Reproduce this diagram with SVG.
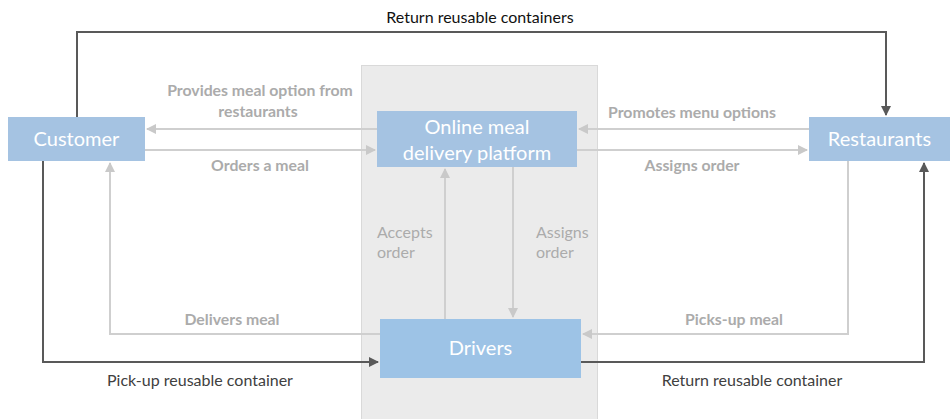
<svg xmlns="http://www.w3.org/2000/svg" width="952" height="419" viewBox="0 0 952 419">
  <defs>
    <marker id="arrLight" viewBox="0 0 10 10" refX="9" refY="5" markerWidth="5" markerHeight="5" orient="auto" markerUnits="strokeWidth">
      <path d="M0,0 L10,5 L0,10 z" fill="#c9c9c9"/>
    </marker>
    <marker id="arrDark" viewBox="0 0 10 10" refX="9" refY="5" markerWidth="5" markerHeight="5" orient="auto" markerUnits="strokeWidth">
      <path d="M0,0 L10,5 L0,10 z" fill="#595959"/>
    </marker>
    <style>
      .node { fill: #a5c3e2; }
      .drv { fill: #9dc3e6; }
      .ntext { font-family: Lato, "Liberation Sans", sans-serif; font-size: 20px; fill: #ffffff; text-anchor: middle; }
      .light { fill: none; stroke: #cfcfcf; stroke-width: 2; }
      .dark { fill: none; stroke: #595959; stroke-width: 2; }
      .lbl { font-family: Lato, "Liberation Sans", sans-serif; font-size: 15.8px; font-weight: bold; fill: #ababab; text-anchor: middle; }
      .lblv { font-family: Lato, "Liberation Sans", sans-serif; font-size: 16px; fill: #ababab; }
      .dlbl { font-family: Lato, "Liberation Sans", sans-serif; font-size: 16px; fill: #404040; text-anchor: middle; }
    </style>
  </defs>

  <rect width="952" height="419" fill="#ffffff"/>

  <!-- platform band -->
  <rect id="platform-band" x="361.5" y="65.5" width="236" height="360" fill="#ebebeb" stroke="#d9d9d9" stroke-width="1"/>

  <g id="connectors">
    <!-- top return loop -->
    <path class="dark" d="M77,117 V32 H886 V115" marker-end="url(#arrDark)"/>
    <!-- platform to customer -->
    <path class="light" d="M377,129 H147" marker-end="url(#arrLight)"/>
    <!-- customer to platform -->
    <path class="light" d="M145,150 H375" marker-end="url(#arrLight)"/>
    <!-- restaurants to platform -->
    <path class="light" d="M809,129 H579" marker-end="url(#arrLight)"/>
    <!-- platform to restaurants -->
    <path class="light" d="M577,150 H807" marker-end="url(#arrLight)"/>
    <!-- drivers up to platform -->
    <path class="light" d="M445,319 V169" marker-end="url(#arrLight)"/>
    <!-- platform down to drivers -->
    <path class="light" d="M513,167 V317" marker-end="url(#arrLight)"/>
    <!-- drivers to customer -->
    <path class="light" d="M380,334 H110 V163" marker-end="url(#arrLight)"/>
    <!-- restaurants to drivers -->
    <path class="light" d="M848,161 V334 H583" marker-end="url(#arrLight)"/>
    <!-- customer to drivers -->
    <path class="dark" d="M43,161 V362 H378" marker-end="url(#arrDark)"/>
    <!-- drivers to restaurants -->
    <path class="dark" d="M581,362 H924 V163" marker-end="url(#arrDark)"/>
  </g>

  <g id="labels">
    <text x="480" y="23" font-family="Lato, 'Liberation Sans', sans-serif" font-size="16" fill="#111111" text-anchor="middle">Return reusable containers</text>
    <text class="lbl" x="260" y="96">Provides meal option from</text>
    <text class="lbl" x="258" y="117">restaurants</text>
    <text class="lbl" x="260" y="171">Orders a meal</text>
    <text class="lbl" x="692" y="118">Promotes menu options</text>
    <text class="lbl" x="692" y="171">Assigns order</text>
    <text class="lblv" x="377" y="238">Accepts</text>
    <text class="lblv" x="377" y="258">order</text>
    <text class="lblv" x="536" y="238">Assigns</text>
    <text class="lblv" x="536" y="258">order</text>
    <text class="lbl" x="232" y="325">Delivers meal</text>
    <text class="lbl" x="734" y="325">Picks-up meal</text>
    <text class="dlbl" x="200" y="386">Pick-up reusable container</text>
    <text class="dlbl" x="752" y="386">Return reusable container</text>
  </g>

  <g id="customer">
    <rect class="node" x="8" y="117" width="137" height="44"/>
    <text class="ntext" x="76.5" y="146">Customer</text>
  </g>

  <g id="restaurants">
    <rect class="node" x="809" y="117" width="141" height="44"/>
    <text class="ntext" x="879.5" y="146">Restaurants</text>
  </g>

  <g id="platform">
    <rect class="node" x="377" y="111" width="200" height="56"/>
    <text class="ntext" x="477" y="134">Online meal</text>
    <text class="ntext" x="477" y="160">delivery platform</text>
  </g>

  <g id="drivers">
    <rect class="drv" x="380" y="319" width="201" height="59"/>
    <text class="ntext" x="480.5" y="355">Drivers</text>
  </g>
</svg>
